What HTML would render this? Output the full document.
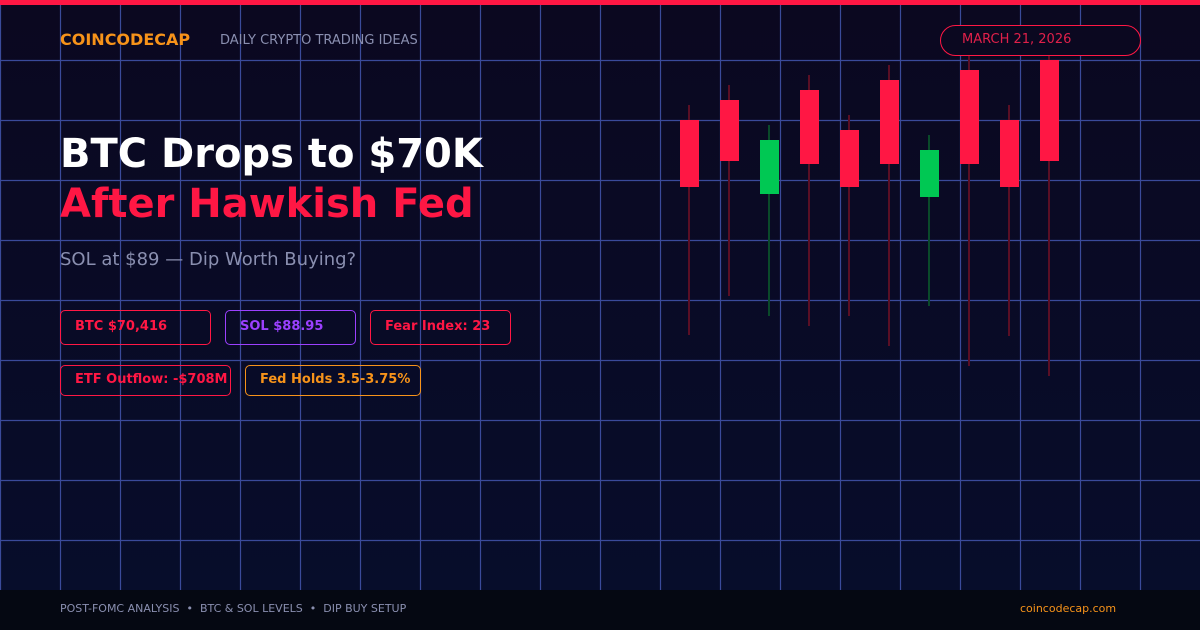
<!DOCTYPE html>
<html><head><meta charset="utf-8"><style>
*{margin:0;padding:0;box-sizing:border-box}
body{width:1200px;height:630px;overflow:hidden;font-family:"DejaVu Sans","Liberation Sans",sans-serif;background:linear-gradient(#0b0820,#070d2b 590px)}
.a{position:absolute;white-space:nowrap}
.b{position:absolute;height:35px;border:1px solid;border-radius:5px;font-size:13px;font-weight:bold;padding-left:14px;line-height:31px}
</style></head><body>
<svg class="a" style="left:0;top:0" width="1200" height="630">
<g stroke="#3a4a9a" stroke-width="1.2">
<line x1="0.5" y1="0" x2="0.5" y2="590"/><line x1="60.5" y1="0" x2="60.5" y2="590"/><line x1="120.5" y1="0" x2="120.5" y2="590"/><line x1="180.5" y1="0" x2="180.5" y2="590"/><line x1="240.5" y1="0" x2="240.5" y2="590"/><line x1="300.5" y1="0" x2="300.5" y2="590"/><line x1="360.5" y1="0" x2="360.5" y2="590"/><line x1="420.5" y1="0" x2="420.5" y2="590"/><line x1="480.5" y1="0" x2="480.5" y2="590"/><line x1="540.5" y1="0" x2="540.5" y2="590"/><line x1="600.5" y1="0" x2="600.5" y2="590"/><line x1="660.5" y1="0" x2="660.5" y2="590"/><line x1="720.5" y1="0" x2="720.5" y2="590"/><line x1="780.5" y1="0" x2="780.5" y2="590"/><line x1="840.5" y1="0" x2="840.5" y2="590"/><line x1="900.5" y1="0" x2="900.5" y2="590"/><line x1="960.5" y1="0" x2="960.5" y2="590"/><line x1="1020.5" y1="0" x2="1020.5" y2="590"/><line x1="1080.5" y1="0" x2="1080.5" y2="590"/><line x1="1140.5" y1="0" x2="1140.5" y2="590"/>
<line x1="0" y1="60.5" x2="1200" y2="60.5"/><line x1="0" y1="120.5" x2="1200" y2="120.5"/><line x1="0" y1="180.5" x2="1200" y2="180.5"/><line x1="0" y1="240.5" x2="1200" y2="240.5"/><line x1="0" y1="300.5" x2="1200" y2="300.5"/><line x1="0" y1="360.5" x2="1200" y2="360.5"/><line x1="0" y1="420.5" x2="1200" y2="420.5"/><line x1="0" y1="480.5" x2="1200" y2="480.5"/><line x1="0" y1="540.5" x2="1200" y2="540.5"/>
</g>
<rect x="0" y="0" width="1200" height="5" fill="#ff1744"/>
<rect x="0" y="590" width="1200" height="40" fill="#050812"/>
<g stroke-width="2">
<line x1="689" y1="105" x2="689" y2="335" stroke="#5a0f25"/>
<line x1="729" y1="85" x2="729" y2="296" stroke="#5a0f25"/>
<line x1="769" y1="125" x2="769" y2="316" stroke="#0a4a2a"/>
<line x1="809" y1="75" x2="809" y2="326" stroke="#5a0f25"/>
<line x1="849" y1="115" x2="849" y2="316" stroke="#5a0f25"/>
<line x1="889" y1="65" x2="889" y2="346" stroke="#5a0f25"/>
<line x1="929" y1="135" x2="929" y2="306" stroke="#0a4a2a"/>
<line x1="969" y1="55" x2="969" y2="366" stroke="#5a0f25"/>
<line x1="1009" y1="105" x2="1009" y2="336" stroke="#5a0f25"/>
<line x1="1049" y1="45" x2="1049" y2="376" stroke="#5a0f25"/>
</g>
<g fill="#ff1744">
<rect x="680" y="120" width="19" height="67"/>
<rect x="720" y="100" width="19" height="61"/>
<rect x="800" y="90" width="19" height="74"/>
<rect x="840" y="130" width="19" height="57"/>
<rect x="880" y="80" width="19" height="84"/>
<rect x="960" y="70" width="19" height="94"/>
<rect x="1000" y="120" width="19" height="67"/>
<rect x="1040" y="60" width="19" height="101"/>
</g>
<g fill="#00c853">
<rect x="760" y="140" width="19" height="54"/>
<rect x="920" y="150" width="19" height="47"/>
</g>
<rect x="940.5" y="25.5" width="200" height="30" rx="15" fill="#0b0820" stroke="#ff1744"/>
</svg>
<div class="a" style="left:962px;top:32px;font-size:13px;color:#e0204a">MARCH 21, 2026</div>
<div class="a" style="left:60px;top:30px;font-size:16px;font-weight:bold;color:#f7931a">COINCODECAP</div>
<div class="a" style="left:220px;top:33px;font-size:13px;color:#8a8fb0">DAILY CRYPTO TRADING IDEAS</div>
<div class="a" style="left:60px;top:129px;font-size:40px;font-weight:bold;color:#fff;line-height:50px">BTC Drops to $70K</div>
<div class="a" style="left:60px;top:179px;font-size:40px;font-weight:bold;color:#ff1744;line-height:50px">After Hawkish Fed</div>
<div class="a" style="left:60px;top:249px;font-size:18px;color:#8a8fb0">SOL at $89 — Dip Worth Buying?</div>
<div class="b" style="left:60px;top:310px;width:151px;border-color:#ff1744;color:#ff1744">BTC $70,416</div>
<div class="b" style="left:225px;top:310px;width:131px;border-color:#9b40ff;color:#9b40ff">SOL $88.95</div>
<div class="b" style="left:370px;top:310px;width:141px;border-color:#ff1744;color:#ff1744">Fear Index: 23</div>
<div class="b" style="left:60px;top:365px;width:171px;height:31px;line-height:27px;border-color:#ff1744;color:#ff1744">ETF Outflow: -$708M</div>
<div class="b" style="left:245px;top:365px;width:176px;height:31px;line-height:27px;border-color:#f7931a;color:#f7931a">Fed Holds 3.5-3.75%</div>
<div class="a" style="left:60px;top:602px;font-size:11px;color:#8a8fb0">POST-FOMC ANALYSIS &nbsp;•&nbsp; BTC &amp; SOL LEVELS &nbsp;•&nbsp; DIP BUY SETUP</div>
<div class="a" style="left:1020px;top:602px;font-size:11px;color:#f7931a">coincodecap.com</div>
</body></html>
